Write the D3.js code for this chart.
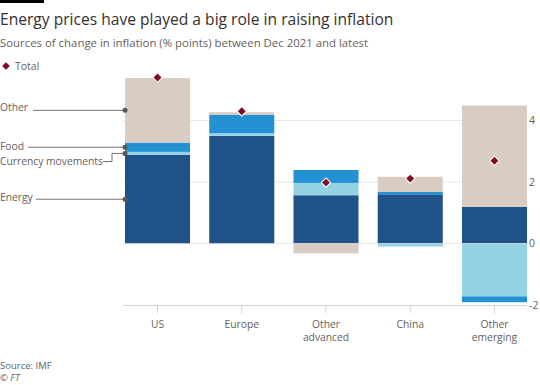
<!DOCTYPE html>
<html>
<head>
<meta charset="utf-8">
<title>Energy prices and inflation</title>
<script src="https://cdn.jsdelivr.net/npm/d3@7"></script>
<style>
  body { margin: 0; background: #fff; }
  text { font-family: "Open Sans", "Noto Sans", sans-serif; }
</style>
</head>
<body>
<div id="chart"></div>
<script>
// regions and contributions (percentage points)
const categories = ["US", "Europe", "Other advanced", "China", "Other emerging"];
const energy   = [2.88, 3.5, 1.57, 1.6, 1.19];
const currency = [0.1, 0.09, 0.4, -0.1, -1.72];
const food     = [0.3, 0.6, 0.42, 0.08, -0.19];
const other    = [2.1, 0.08, -0.32, 0.49, 3.3];
const total    = [5.4, 4.3, 1.98, 2.11, 2.69];
const yTicks   = [-2, 0, 2, 4];

const keys = ["energy", "currency", "food", "other"];
const labels = { energy: "Energy", currency: "Currency movements", food: "Food", other: "Other" };
const colors = { energy: "#1f5289", currency: "#96d2e6", food: "#2491d2", other: "#d9ccc3" };

const width = 540, height = 385;
const svg = d3.select("#chart").append("svg")
    .attr("width", width)
    .attr("height", height);

const rows = categories.map((c, i) => ({
    cat: c, energy: energy[i], currency: currency[i], food: food[i], other: other[i], total: total[i]
}));

const x = d3.scaleBand().domain(categories).range([125, 527]).paddingInner(0.228);
const y = d3.scaleLinear().domain([-2, 4]).range([305, 120.5]);

// header
svg.append("rect").attr("x", 0).attr("y", 0).attr("width", 44).attr("height", 3).attr("fill", "#000");
svg.append("text").attr("x", 0).attr("y", 25)
    .attr("font-size", 15.6).attr("fill", "#33302e")
    .text("Energy prices have played a big role in raising inflation");
svg.append("text").attr("x", 0).attr("y", 47)
    .attr("font-size", 11.4).attr("fill", "#66605c")
    .text("Sources of change in inflation (% points) between Dec 2021 and latest");

// legend
const diamond = d3.symbol().type(d3.symbolSquare);
svg.append("path").attr("d", diamond.size(30)())
    .attr("transform", "translate(6,66) rotate(45)").attr("fill", "#7d0c2b");
svg.append("text").attr("x", 15).attr("y", 69.5)
    .attr("font-size", 10.5).attr("fill", "#66605c").text("Total");

// gridlines
svg.append("g").selectAll("line")
    .data(yTicks.filter(t => t > -2))
    .join("line")
    .attr("x1", 123).attr("x2", 527)
    .attr("y1", d => y(d)).attr("y2", d => y(d))
    .attr("stroke", "#e9e6e3").attr("stroke-width", 1);

// stacked bars
const series = d3.stack().keys(keys).offset(d3.stackOffsetDiverging)(rows);
svg.append("g").selectAll("g")
    .data(series)
    .join("g")
    .attr("fill", d => colors[d.key])
    .selectAll("rect")
    .data(d => d)
    .join("rect")
    .attr("x", d => x(d.data.cat))
    .attr("width", x.bandwidth())
    .attr("y", d => y(Math.max(d[0], d[1])))
    .attr("height", d => Math.abs(y(d[0]) - y(d[1])));

// zero line over bars
svg.append("line")
    .attr("x1", 123).attr("x2", 527)
    .attr("y1", y(0)).attr("y2", y(0))
    .attr("stroke", "#e9e6e3").attr("stroke-width", 1).attr("opacity", 0.6);

// x axis at the bottom
const xAxis = svg.append("g")
    .attr("transform", `translate(0,${y(-2)})`)
    .call(d3.axisBottom(x).tickSize(8).tickSizeOuter(0).tickFormat(""));
xAxis.select(".domain").attr("d", "M123,0.5H527").attr("stroke", "#d5d2cf");
xAxis.selectAll(".tick line").attr("stroke", "#d5d2cf");

xAxis.selectAll(".tick").append("text")
    .attr("fill", "#66605c").attr("font-size", 10.3).attr("text-anchor", "middle")
    .each(function (d) {
        const words = d.split(" ");
        const t = d3.select(this);
        words.forEach((w, i) => {
            t.append("tspan").attr("x", 0).attr("y", 23 + i * 13).text(w);
        });
    });

// y axis labels on the right
const yAxis = svg.append("g")
    .attr("transform", "translate(527,0)")
    .call(d3.axisRight(y).tickValues(yTicks).tickSize(0).tickPadding(2).tickFormat(d3.format("d")));
yAxis.select(".domain").remove();
yAxis.selectAll("text").attr("fill", "#66605c").attr("font-size", 10.5)
    .text(d => d < 0 ? "-" + Math.abs(d) : d);

// totals
svg.append("g").selectAll("path")
    .data(rows)
    .join("path")
    .attr("d", diamond.size(44)())
    .attr("transform", d => `translate(${x(d.cat) + x.bandwidth() / 2},${y(d.total)}) rotate(45)`)
    .attr("fill", "#7d0c2b")
    .attr("stroke", "#fff").attr("stroke-width", 1);

// annotations on the US bar
const us = rows[0];
const segMid = {};
series.forEach(s => { segMid[s.key] = y((s[0][0] + s[0][1]) / 2); });
const bx = x(us.cat);
const ann = svg.append("g");
const annY = { other: 111, food: 150, currency: 165, energy: 201 };
const lineStart = { other: 33, food: 28, currency: 103, energy: 36 };
keys.forEach(k => {
    ann.append("text").attr("x", 0).attr("y", annY[k])
        .attr("font-size", 10.3).attr("fill", "#66605c").text(labels[k]);
    const ly = annY[k] - 3.5;
    let path;
    if (k === "currency") {
        path = `M${lineStart[k]},${ly}H112V${segMid[k]}H${bx}`;
    } else {
        path = `M${lineStart[k]},${segMid[k]}H${bx}`;
    }
    ann.append("path").attr("d", path).attr("fill", "none")
        .attr("stroke", "#77716d").attr("stroke-width", 1);
    ann.append("circle").attr("cx", bx).attr("cy", segMid[k]).attr("r", 2.5).attr("fill", "#5e5955");
});

// source
svg.append("text").attr("x", 0).attr("y", 369)
    .attr("font-size", 9.5).attr("fill", "#66605c").text("Source: IMF");
svg.append("text").attr("x", 0).attr("y", 381)
    .attr("font-size", 9.5).attr("fill", "#66605c").attr("font-style", "italic").text("© FT");
</script>
</body>
</html>
